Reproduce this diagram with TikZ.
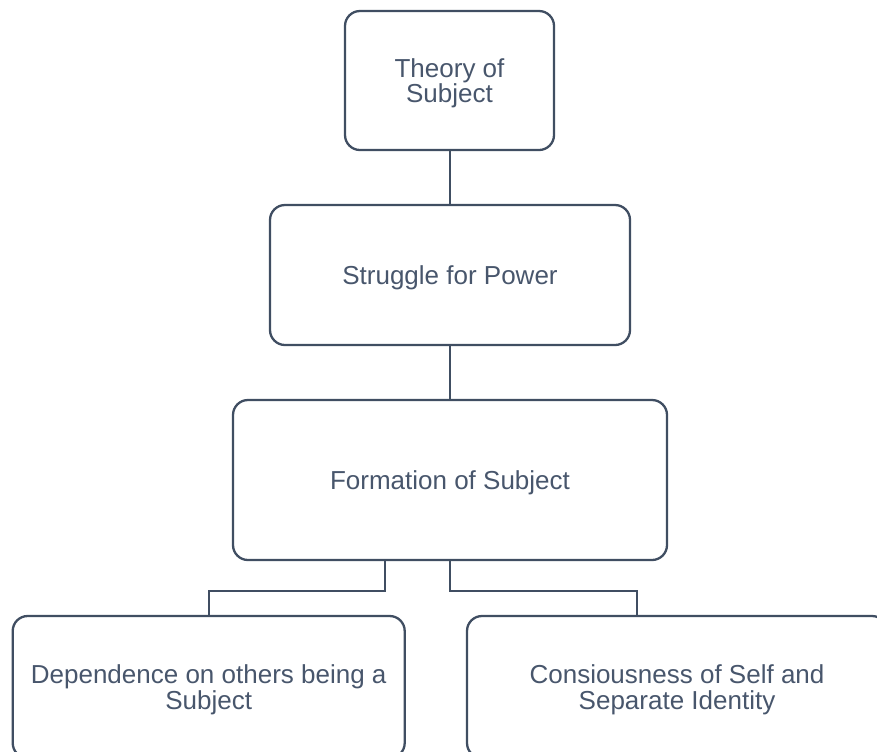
\documentclass[tikz,border=0pt]{standalone}
\usepackage{fontspec}
\setmainfont{Liberation Sans}
\usetikzlibrary{calc}
\definecolor{edgecol}{RGB}{64,78,98}
\definecolor{textcol}{RGB}{72,86,108}
\begin{document}
\begin{tikzpicture}[x=0.5pt,y=0.5pt,
  box/.style={draw=edgecol,line width=1.15pt,rounded corners=7.5pt,
    text=textcol,align=center,inner sep=0pt,text depth=0pt,
    font=\fontsize{13}{12.6}\selectfont},
  link/.style={draw=edgecol,line width=1.15pt}]
  \useasboundingbox (0,0) rectangle (877,-751);
  \clip (0,0) rectangle (877,-751);
  % boxes (pixel grid, y grows downward as negative)
  \node[box,minimum width=209pt/2,minimum height=139pt/2] (theory) at (449.5,-80.5) {Theory of\\Subject};
  \node[box,minimum width=360pt/2,minimum height=140pt/2] (power) at (450,-275) {Struggle for Power};
  \node[box,minimum width=434pt/2,minimum height=160pt/2] (form) at (450,-480) {Formation of Subject};
  \node[box,minimum width=392pt/2,minimum height=142pt/2] (dep) at (208.7,-687) {Dependence on others being a\\Subject};
  \node[box,minimum width=420pt/2,minimum height=142pt/2] (cons) at (677,-687) {Consiousness of Self and\\Separate Identity};
  % connectors
  \draw[link] (power.north) -- (power.north |- theory.south);
  \draw[link] (form.north) -- (form.north |- power.south);
  \draw[link] ($(form.south)+(-65,0)$) -- ++(0,-30) -| (dep.north);
  \draw[link] (form.south) -- ++(0,-30) -| ($(cons.north)+(-40,0)$);
\end{tikzpicture}
\end{document}
